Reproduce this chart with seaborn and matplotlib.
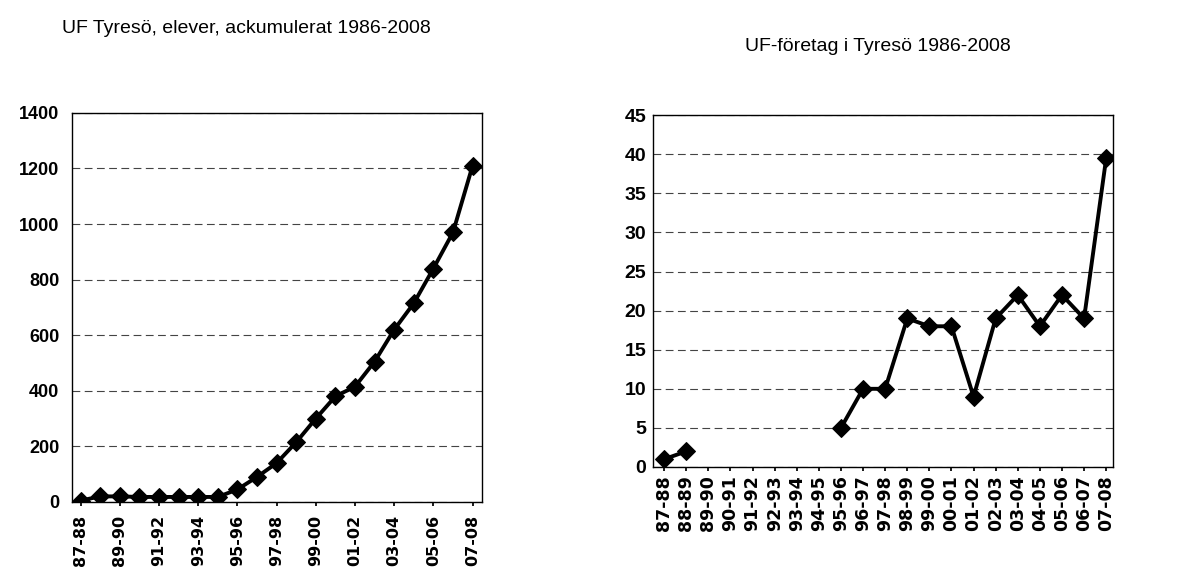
import numpy as np
import pandas as pd
import matplotlib
matplotlib.use('Agg')
import matplotlib.pyplot as plt
import seaborn as sns

# Läsår (kategorier)
ar = ['87-88', '88-89', '89-90', '90-91', '91-92', '92-93', '93-94', '94-95',
      '95-96', '96-97', '97-98', '98-99', '99-00', '00-01', '01-02', '02-03',
      '03-04', '04-05', '05-06', '06-07', '07-08']

# Elever ackumulerat
elever = [5, 20, 20, 18, 18, 18, 18, 18, 45, 90, 140, 215, 300, 380, 415, 505,
          620, 715, 840, 970, 1210]

# Antal UF-företag (saknas 89-90 till 94-95)
foretag = [1, 2, None, None, None, None, None, None, 5, 10, 10, 19, 18, 18, 9,
           19, 22, 18, 22, 19, 39.5]

sns.set_theme(style='white')
plt.rcParams['font.family'] = ['Liberation Sans', 'DejaVu Sans']
plt.rcParams['text.color'] = 'black'
plt.rcParams['xtick.color'] = 'black'
plt.rcParams['ytick.color'] = 'black'

df_el = pd.DataFrame({'pos': np.arange(len(ar)), 'ar': ar, 'antal': elever})
df_uf = pd.DataFrame({'pos': np.arange(len(ar)), 'ar': ar, 'antal': foretag}).dropna()
# dela upp i segment så att luckan inte binds ihop
df_uf['seg'] = (df_uf['pos'].diff().fillna(1) > 1).cumsum()

fig = plt.figure(figsize=(11.94, 5.73), dpi=100)
ax1 = fig.add_axes([0.060, 0.124, 0.344, 0.679])
ax2 = fig.add_axes([0.547, 0.185, 0.385, 0.614])

def stil(ax, ysize, ypad, xsize, xpad):
    ax.grid(axis='y', color='#444444', linestyle=(0, (7, 4)), linewidth=0.8)
    ax.set_axisbelow(True)
    for s in ax.spines.values():
        s.set_visible(True)
        s.set_color('black')
        s.set_linewidth(1.0)
    ax.tick_params(axis='y', length=0, pad=ypad)
    ax.tick_params(axis='x', rotation=90, length=3, direction='out',
                   bottom=True, color='black', pad=xpad)
    for lab in ax.get_yticklabels():
        lab.set_fontweight('bold')
        lab.set_fontsize(ysize)
    for lab in ax.get_xticklabels():
        lab.set_family(['DejaVu Sans'])
        lab.set_fontweight('bold')
        lab.set_fontsize(xsize)
    ax.set_xlabel('')
    ax.set_ylabel('')

# Vänster: elever ackumulerat
sns.lineplot(data=df_el, x='pos', y='antal', ax=ax1, color='black', linewidth=2.8,
             marker='D', markersize=9, markeredgecolor='black', markerfacecolor='black')
ax1.set_xlim(-0.46, 20.5)
ax1.set_ylim(0, 1400)
ax1.set_yticks(range(0, 1401, 200))
ax1.set_xticks(np.arange(0, len(ar), 2))
ax1.set_xticklabels(ar[::2])
stil(ax1, 13, 9, 11.5, 6)
fig.text(0.052, 0.950, 'UF Tyresö, elever, ackumulerat 1986-2008', fontsize=14,
         ha='left', va='center')

# Höger: antal UF-företag
sns.lineplot(data=df_uf, x='pos', y='antal', units='seg', estimator=None, ax=ax2,
             color='black', linewidth=2.8, marker='D', markersize=9,
             markeredgecolor='black', markerfacecolor='black')
ax2.set_xlim(-0.5, 20.3)
ax2.set_ylim(0, 45)
ax2.set_yticks(range(0, 46, 5))
ax2.set_xticks(np.arange(len(ar)))
ax2.set_xticklabels(ar)
stil(ax2, 14, 5, 12.5, 3)
fig.text(0.735, 0.918, 'UF-företag i Tyresö 1986-2008', fontsize=14,
         ha='center', va='center')

fig.savefig('out.png', dpi=100)
